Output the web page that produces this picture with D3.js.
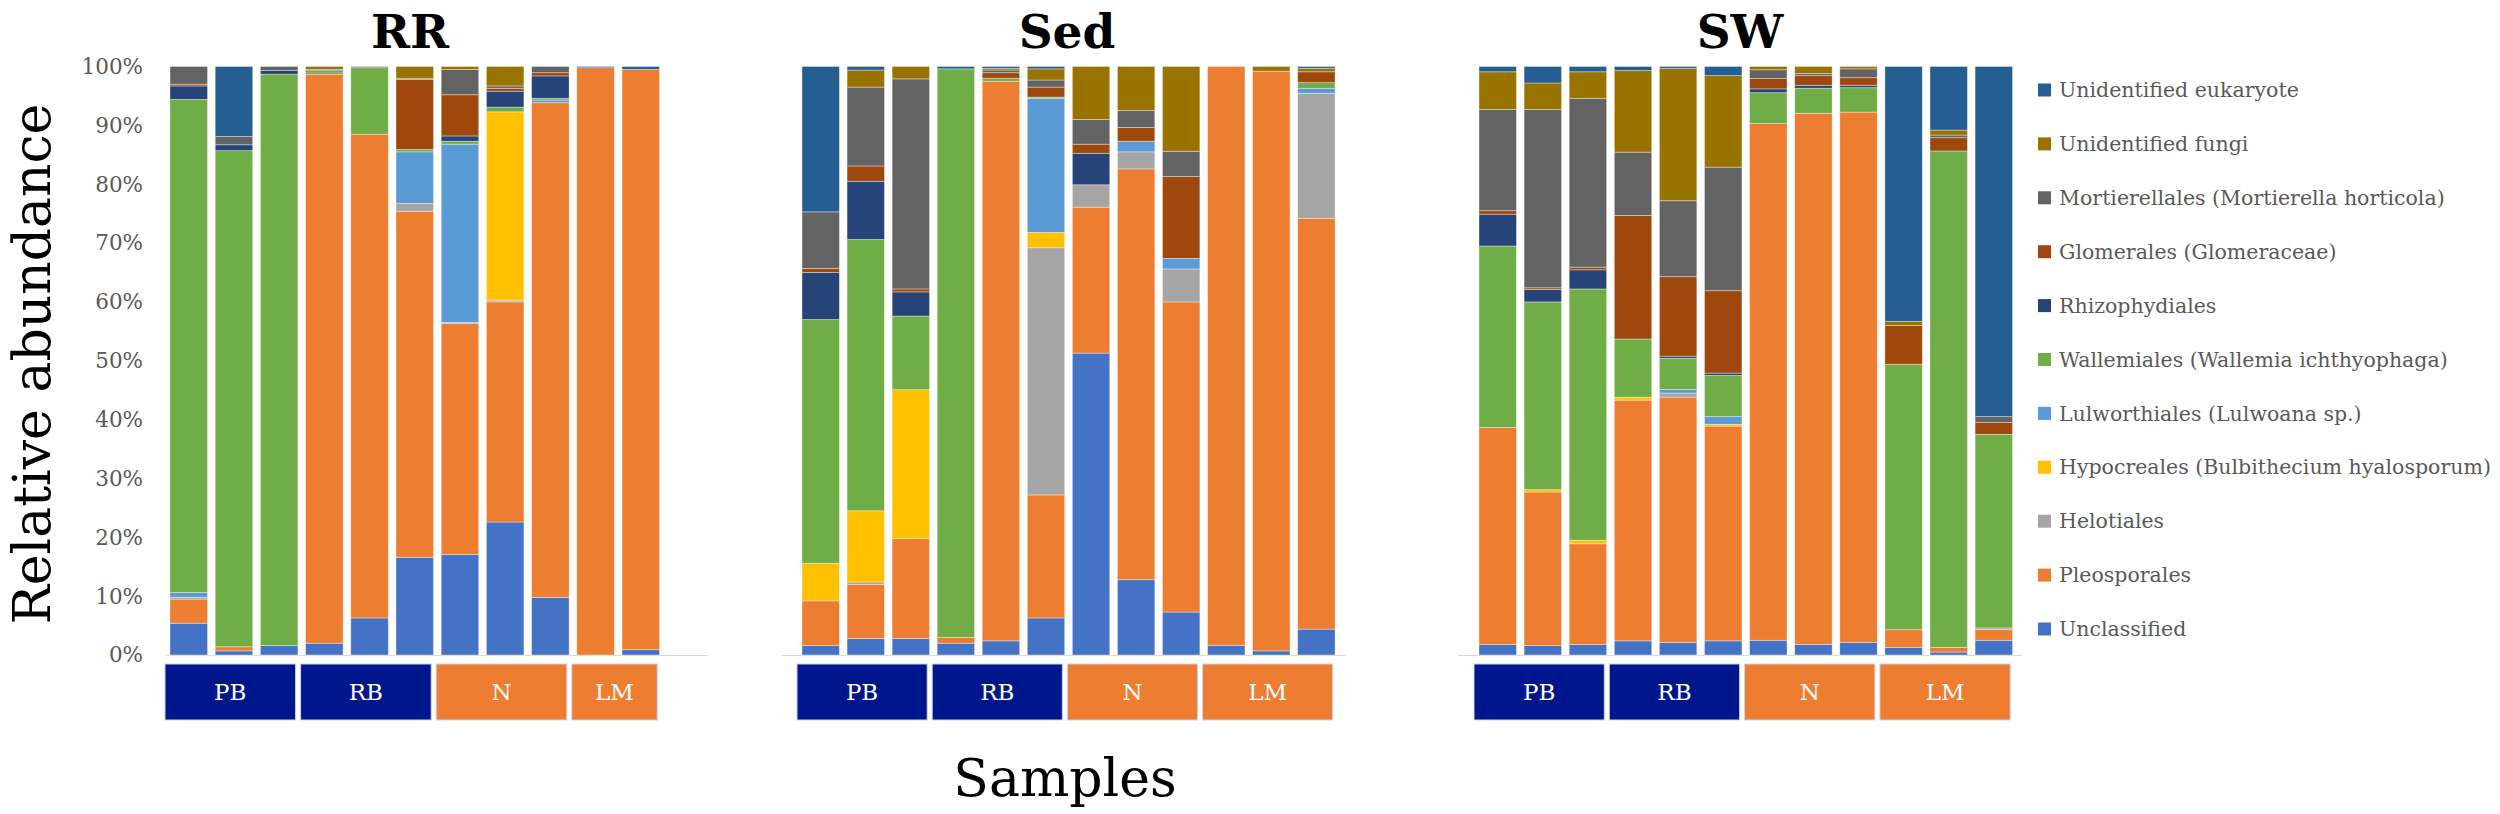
<!DOCTYPE html>
<html>
<head>
<meta charset="utf-8">
<script src="https://cdn.jsdelivr.net/npm/d3@7"></script>
<style>
  body { margin: 0; background: #fff; }
  text { font-family: "DejaVu Serif", serif; }
</style>
</head>
<body>
<svg id="chart" width="2500" height="814"></svg>
<script>
// taxa, bottom of the stack first
const series = ["Unclassified", "Pleosporales", "Helotiales", "Hypocreales (Bulbithecium hyalosporum)",
  "Lulworthiales (Lulwoana sp.)", "Wallemiales (Wallemia ichthyophaga)", "Rhizophydiales",
  "Glomerales (Glomeraceae)", "Mortierellales (Mortierella horticola)", "Unidentified fungi",
  "Unidentified eukaryote"];
const colors = ["#4472C4", "#ED7D31", "#A5A5A5", "#FFC000", "#5B9BD5", "#70AD47",
  "#264478", "#9E480E", "#636363", "#997300", "#255E91"];

const groups = ["PB", "RB", "N", "LM"];
const groupColors = ["#00168C", "#00168C", "#ED7D31", "#ED7D31"];
const yTicks = [0, 10, 20, 30, 40, 50, 60, 70, 80, 90, 100];

// % per sample, same order as series
const rrValues = [
  [5.4, 4.1, 0.3, 0, 0.8, 83.8, 2.3, 0.3, 3.0, 0, 0],
  [0.7, 0.7, 0, 0, 0, 84.3, 1.0, 0, 1.4, 0, 11.9],
  [1.6, 0, 0, 0, 0, 97.1, 0.6, 0, 0.7, 0, 0],
  [2.0, 96.7, 0, 0, 0, 0.4, 0.2, 0, 0.2, 0.5, 0],
  [6.3, 82.2, 0, 0, 0, 11.3, 0, 0, 0.2, 0, 0],
  [16.6, 58.8, 1.35, 0, 8.75, 0.4, 0, 11.9, 0.2, 2.0, 0],
  [17.1, 39.2, 0.2, 0, 30.3, 0.5, 0.9, 7.0, 4.3, 0.5, 0],
  [22.6, 37.4, 0.3, 32.0, 0, 0.8, 2.7, 0.5, 0.4, 3.3, 0],
  [9.8, 84.05, 0, 0, 0.45, 0.3, 3.8, 0.55, 1.05, 0, 0],
  [0, 99.8, 0, 0, 0, 0, 0, 0, 0, 0, 0.2],
  [0.9, 98.6, 0, 0, 0, 0, 0, 0, 0, 0, 0.5]
];
const sedValues = [
  [1.6, 7.6, 0, 6.4, 0, 41.4, 8.0, 0.7, 9.6, 0, 24.7],
  [2.8, 9.2, 0.4, 12.1, 0, 46.1, 9.9, 2.6, 13.4, 2.9, 0.6],
  [2.8, 17.0, 0, 25.3, 0, 12.5, 4.1, 0.5, 35.7, 2.1, 0],
  [2.0, 1.0, 0, 0, 0, 96.6, 0, 0, 0, 0, 0.4],
  [2.4, 95.1, 0, 0, 0, 0.5, 0, 0.95, 0.45, 0.3, 0.3],
  [6.3, 20.9, 42.0, 2.6, 22.8, 0.2, 0, 1.7, 1.2, 1.9, 0.4],
  [51.3, 24.8, 3.8, 0, 0, 0, 5.35, 1.55, 4.2, 9.0, 0],
  [12.8, 69.8, 2.9, 0, 1.8, 0, 0, 2.35, 2.85, 7.5, 0],
  [7.3, 52.7, 5.6, 0, 1.8, 0, 0, 13.9, 4.3, 14.4, 0],
  [1.65, 98.35, 0, 0, 0, 0, 0, 0, 0, 0, 0],
  [0.7, 98.5, 0, 0, 0, 0, 0, 0, 0, 0.8, 0],
  [4.4, 69.8, 21.25, 0, 0.85, 0.95, 0, 1.85, 0, 0.6, 0.3]
];
const swValues = [
  [1.8, 36.85, 0, 0, 0, 30.85, 5.4, 0.6, 17.2, 6.4, 0.9],
  [1.6, 26.1, 0, 0.4, 0, 31.9, 2.1, 0.3, 30.3, 4.5, 2.8],
  [1.8, 17.1, 0, 0.6, 0, 42.7, 3.25, 0.45, 28.7, 4.5, 0.9],
  [2.4, 40.9, 0, 0.5, 0, 9.9, 0, 21.0, 10.75, 13.85, 0.7],
  [2.15, 41.65, 0.7, 0, 0.6, 5.3, 0.35, 13.5, 12.9, 22.5, 0.3],
  [2.4, 36.5, 0, 0.3, 1.3, 7.0, 0.4, 14.0, 21.0, 15.55, 1.55],
  [2.5, 87.8, 0, 0, 0, 5.25, 0.65, 1.75, 1.5, 0.55, 0],
  [1.8, 90.25, 0, 0, 0, 4.25, 0.5, 1.65, 0.35, 1.2, 0],
  [2.15, 90.1, 0, 0, 0, 4.15, 0.4, 1.3, 1.5, 0.4, 0],
  [1.3, 3.0, 0, 0, 0, 45.1, 0, 6.6, 0, 0.7, 43.3],
  [0.5, 0.8, 0, 0, 0, 84.35, 0, 2.25, 0.45, 0.85, 10.8],
  [2.5, 1.8, 0.3, 0, 0, 32.9, 0, 2.0, 1.0, 0, 59.5]
];
const rrGroupSizes = [3, 3, 3, 2];
const sedGroupSizes = [3, 3, 3, 3];
const swGroupSizes = [3, 3, 3, 3];

const svg = d3.select("#chart");
const color = d3.scaleOrdinal().domain(series).range(colors);
const y = d3.scaleLinear().domain([0, 100]).range([655, 66.5]);

const panels = [
  {title: "RR", values: rrValues, sizes: rrGroupSizes, x0: 170, step: 45.2, tx: 410, axis: [166, 708]},
  {title: "Sed", values: sedValues, sizes: sedGroupSizes, x0: 802, step: 45.06, tx: 1067, axis: [782, 1345]},
  {title: "SW", values: swValues, sizes: swGroupSizes, x0: 1479, step: 45.1, tx: 1740, axis: [1458, 2022]}
];

panels.forEach(function(p){
  let n = p.values.length;
  let r0 = p.x0 - p.step*0.085;
  let x = d3.scaleBand().domain(d3.range(n))
    .range([r0, r0 + n*p.step]).paddingInner(0.17).paddingOuter(0.085);

  let rows = p.values.map(function(v, i){
    let tot = d3.sum(v);
    let row = {idx: i};
    series.forEach(function(s, j){ row[s] = v[j]*100/tot; });
    return row;
  });
  let stacked = d3.stack().keys(series)(rows);

  let g = svg.append("g");
  g.append("line")
    .attr("x1", p.axis[0]).attr("x2", p.axis[1])
    .attr("y1", y(0) + 0.5).attr("y2", y(0) + 0.5)
    .attr("stroke", "#d9d9d9").attr("stroke-width", 1.2);

  g.selectAll("g.layer").data(stacked).enter().append("g")
    .attr("class", "layer")
    .attr("fill", function(d){ return color(d.key); })
    .selectAll("rect").data(function(d){ return d; })
    .enter().append("rect")
    .attr("x", function(d){ return x(d.data.idx); })
    .attr("width", x.bandwidth())
    .attr("y", function(d){ return y(d[1]); })
    .attr("height", function(d){ return y(d[0]) - y(d[1]); })
    .attr("stroke", "#ffffff").attr("stroke-opacity", 0.45).attr("stroke-width", 0.8);

  // sample group boxes under the bars
  let start = 0;
  p.sizes.forEach(function(sz, k){
    let bx = x(start) - 5;
    let bw = sz*p.step - 5;
    g.append("rect")
      .attr("x", bx).attr("y", 664).attr("width", bw).attr("height", 56)
      .attr("fill", groupColors[k]).attr("stroke", "#c9d3ee").attr("stroke-width", 1);
    g.append("text")
      .attr("x", bx + bw/2).attr("y", 692).attr("dy", "0.36em")
      .attr("text-anchor", "middle").attr("fill", "#fff")
      .style("font-size", "23px").text(groups[k]);
    start += sz;
  });

  g.append("text")
    .attr("x", p.tx).attr("y", 48)
    .attr("text-anchor", "middle").style("font-size", "47px").style("font-weight", "bold")
    .text(p.title);
});

// y axis on the first panel only
let yAxis = svg.append("g").attr("transform", "translate(150,0)")
  .call(d3.axisLeft(y).tickValues(yTicks).tickFormat(function(d){ return d + "%"; }).tickSize(0).tickPadding(7));
yAxis.select(".domain").remove();
yAxis.selectAll("text").style("font-size", "21.5px").style("font-family", "DejaVu Serif").attr("fill", "#595959");

svg.append("text")
  .attr("transform", "translate(50,364) rotate(-90)")
  .attr("text-anchor", "middle").style("font-size", "52px")
  .text("Relative abundance");

svg.append("text")
  .attr("x", 1065).attr("y", 796)
  .attr("text-anchor", "middle").style("font-size", "52px")
  .text("Samples");

// legend, top entry = top of stack
let legend = svg.append("g");
let legendKeys = series.slice().reverse();
legendKeys.forEach(function(k, i){
  let ly = 90 + i*53.9;
  legend.append("rect").attr("x", 2038).attr("y", ly - 6.5).attr("width", 13).attr("height", 13)
    .attr("fill", color(k));
  legend.append("text").attr("x", 2059).attr("y", ly).attr("dy", "0.35em")
    .style("font-size", "20.5px").attr("fill", "#595959").text(k);
});
</script>
</body>
</html>
